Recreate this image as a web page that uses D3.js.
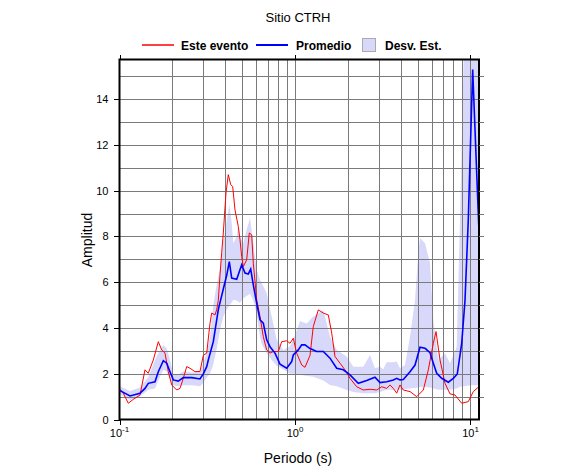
<!DOCTYPE html>
<html>
<head>
<meta charset="utf-8">
<script src="https://cdn.jsdelivr.net/npm/d3@7"></script>
<style>
  body { margin: 0; background: #fff; }
  svg { display: block; font-family: "Liberation Sans", Arial, Helvetica, sans-serif; }
</style>
</head>
<body>
<svg id="chart"></svg>
<script>
'use strict';

// Este evento (red)
const eventT = [0.1007,0.1051,0.1122,0.1198,0.1309,0.1397,0.1459,0.1558,0.1664,0.1740,0.1817,0.1897,0.1984,0.2118,0.2212,0.2310,0.2415,0.2522,0.2693,0.2875,0.3003,0.3140,0.3278,0.3352,0.3501,0.3580,0.3656,0.3738,0.3822,0.3904,0.4044,0.4168,0.4302,0.4416,0.4551,0.4753,0.4860,0.4969,0.5075,0.5306,0.5490,0.5666,0.5786,0.6050,0.6318,0.6598,0.6898,0.7204,0.7522,0.8033,0.8399,0.8968,0.9365,0.9780,1.0225,1.092,1.140,1.218,1.271,1.358,1.450,1.548,1.619,1.690,1.805,1.927,2.058,2.247,2.450,2.675,2.921,3.119,3.330,3.478,3.632,3.797,3.965,4.141,4.523,4.938,5.385,5.750,6.140,6.362,6.704,7.158,7.643,8.161,8.910,9.715,10.37,11.08];
const eventA = [1.32,1.15,0.71,0.88,1.07,2.17,2.02,2.60,3.40,3.04,2.90,2.09,1.51,1.29,1.36,1.80,2.31,2.24,2.09,2.10,2.80,2.90,4.20,4.65,4.57,4.80,5.20,6.30,7.30,8.15,9.90,10.70,10.26,10.18,9.16,8.43,7.85,7.12,6.68,6.98,8.15,8.07,6.83,5.23,4.50,3.62,3.04,2.90,2.97,2.97,3.40,3.44,3.33,3.55,2.90,2.38,2.28,2.80,4.06,4.79,4.65,4.57,3.77,2.75,2.46,2.17,1.80,1.43,1.29,1.32,1.29,1.43,1.36,1.51,1.36,1.15,1.51,1.29,1.22,1.00,1.29,2.17,3.33,3.84,2.60,1.58,1.12,1.07,0.71,0.78,1.22,1.41];

// Promedio (blue)
const meanT = [0.1007,0.1148,0.1309,0.1397,0.1459,0.1593,0.1664,0.1777,0.1858,0.1940,0.2026,0.2163,0.2310,0.2579,0.2875,0.3003,0.3140,0.3206,0.3424,0.3656,0.3904,0.4082,0.4223,0.4358,0.4654,0.4969,0.5190,0.5419,0.5592,0.5786,0.6050,0.6318,0.6598,0.6898,0.7204,0.7692,0.8214,0.8968,0.9576,0.9780,1.044,1.092,1.140,1.218,1.329,1.450,1.583,1.728,1.885,2.058,2.294,2.562,2.856,3.050,3.330,3.632,3.797,3.965,4.141,4.523,4.830,5.157,5.507,5.880,6.140,6.420,6.855,7.475,7.981,8.410,8.910,9.304,9.715,10.29,11.18];
const meanA = [1.26,1.03,1.15,1.36,1.58,1.65,2.09,2.57,2.46,2.09,1.73,1.68,1.83,1.83,1.77,1.99,2.31,2.60,3.40,4.80,5.70,6.30,6.90,6.18,6.13,6.76,6.40,6.36,6.57,5.88,5.08,4.35,4.21,3.48,3.18,2.90,2.42,2.24,2.53,2.82,3.04,3.26,3.26,3.10,2.97,2.97,2.68,2.24,2.17,1.95,1.58,1.70,1.85,1.61,1.65,1.73,1.80,1.73,1.75,2.09,2.38,3.16,3.11,2.92,2.46,2.02,1.80,1.63,1.80,1.99,3.33,5.20,8.73,15.29,8.20];

// Desv. Est. (band)
const bandT = [0.1007,0.1148,0.1309,0.1459,0.1593,0.1664,0.1777,0.1858,0.1940,0.2026,0.2163,0.2310,0.2579,0.2875,0.3003,0.3140,0.3278,0.3424,0.3580,0.3738,0.3904,0.4082,0.4223,0.4358,0.4451,0.4654,0.4753,0.4860,0.5075,0.5306,0.5541,0.5786,0.6050,0.6318,0.6460,0.6898,0.7366,0.7866,0.8577,0.9365,0.9780,1.068,1.166,1.271,1.450,1.583,1.728,1.970,2.149,2.450,2.675,2.856,3.050,3.185,3.330,3.632,3.797,3.965,4.234,4.523,4.830,5.043,5.157,5.507,5.880,6.140,6.556,7.158,7.643,8.345,8.714,9.182,9.935,11.18];
const bandLo = [1.10,0.85,1.00,1.30,1.35,1.70,2.17,2.10,1.75,1.50,1.45,1.50,1.50,1.45,1.60,1.85,2.00,2.40,3.10,3.90,4.50,4.80,5.00,5.10,5.23,5.20,5.15,5.10,5.30,5.40,5.50,5.20,4.60,3.62,3.30,2.90,2.60,2.35,2.20,2.00,2.00,1.95,1.90,1.87,1.70,1.51,1.45,1.29,1.20,1.15,1.15,1.15,1.20,1.25,1.30,1.30,1.30,1.30,1.33,1.35,1.38,1.40,1.42,1.43,1.40,1.35,1.30,1.30,1.30,1.35,1.43,1.45,1.50,1.50];
const bandHi = [1.45,1.25,1.40,1.85,2.60,2.90,3.26,3.10,2.60,2.00,1.95,2.10,2.05,2.10,2.50,2.90,3.60,5.00,5.90,6.60,7.80,8.70,9.40,8.60,7.70,8.00,8.45,8.00,7.70,8.30,8.80,7.70,6.54,6.10,5.96,5.52,4.50,3.48,3.04,3.20,3.48,4.30,4.20,4.50,4.79,3.62,3.04,2.75,2.31,2.31,2.82,2.24,2.31,2.20,2.50,2.50,2.53,2.24,2.38,3.62,5.23,7.27,7.93,7.70,6.83,4.35,2.60,2.90,2.46,3.18,8.73,16.5,17.0,17.0];

const xGrid = [0.2,0.3,0.4,0.5,0.6,0.7,0.8,0.9,1,2,3,4,5,6,7,8,9,10];
const xMajor = [{v: 0.1, e: '-1'}, {v: 1, e: '0'}, {v: 10, e: '1'}];
const yGrid = d3.range(1, 16);
const yMajor = [0, 2, 4, 6, 8, 10, 12, 14];

const W = 586, H = 475;
const box = {left: 119.5, right: 479, top: 59.5, bottom: 419.5};

const svg = d3.select('#chart').attr('width', W).attr('height', H);

const x = d3.scaleLog().domain([0.1, 11.18]).range([box.left, box.right]);
const y = d3.scaleLinear().domain([0, 15.73]).range([box.bottom, box.top]);
const px = v => Math.round(x(v)) + 0.5;
const py = v => Math.round(y(v)) + 0.5;

svg.append('clipPath').attr('id', 'clip')
  .append('rect')
  .attr('x', box.left).attr('y', box.top)
  .attr('width', box.right - box.left).attr('height', box.bottom - box.top);

// band
const band = bandT.map((t, i) => ({t: t, lo: bandLo[i], hi: bandHi[i]}));
svg.append('path')
  .datum(band)
  .attr('clip-path', 'url(#clip)')
  .attr('fill', '#d8d8fa')
  .attr('d', d3.area().x(d => x(d.t)).y0(d => y(d.lo)).y1(d => y(d.hi)));

// grid
const grid = svg.append('g').attr('stroke', '#7a7a7a').attr('stroke-width', 1).attr('shape-rendering', 'crispEdges');
grid.selectAll('line.v').data(xGrid).join('line')
  .attr('x1', d => px(d)).attr('x2', d => px(d))
  .attr('y1', box.top).attr('y2', box.bottom);
grid.selectAll('line.h').data(yGrid).join('line')
  .attr('x1', box.left).attr('x2', box.right)
  .attr('y1', d => py(d)).attr('y2', d => py(d));

// curves
const line = d3.line().x(d => x(d[0])).y(d => y(d[1]));
svg.append('path')
  .datum(eventT.map((t, i) => [t, eventA[i]]))
  .attr('clip-path', 'url(#clip)')
  .attr('fill', 'none').attr('stroke', '#ff0000').attr('stroke-width', 1)
  .attr('d', line);
svg.append('path')
  .datum(meanT.map((t, i) => [t, meanA[i]]))
  .attr('clip-path', 'url(#clip)')
  .attr('fill', 'none').attr('stroke', '#0000ff').attr('stroke-width', 1.6)
  .attr('d', line);

// frame
svg.append('rect')
  .attr('x', box.left).attr('y', box.top)
  .attr('width', box.right - box.left).attr('height', box.bottom - box.top)
  .attr('fill', 'none').attr('stroke', '#000').attr('stroke-width', 2);

// ticks
const ticks = svg.append('g').attr('stroke', '#000').attr('stroke-width', 1).attr('shape-rendering', 'crispEdges');
ticks.selectAll('line.lt').data(yMajor).join('line')
  .attr('x1', box.left - 6).attr('x2', box.left)
  .attr('y1', d => py(d)).attr('y2', d => py(d));
ticks.selectAll('line.rt').data(yGrid).join('line')
  .attr('stroke', '#777')
  .attr('x1', box.right).attr('x2', box.right + 5)
  .attr('y1', d => py(d)).attr('y2', d => py(d));
ticks.selectAll('line.bt').data(xMajor).join('line')
  .attr('x1', d => px(d.v)).attr('x2', d => px(d.v))
  .attr('y1', box.bottom).attr('y2', box.bottom + 5);
ticks.selectAll('line.tt').data(xMajor).join('line')
  .attr('x1', d => px(d.v)).attr('x2', d => px(d.v))
  .attr('y1', box.top - 5).attr('y2', box.top);

// tick labels
svg.selectAll('text.yl').data(yMajor).join('text')
  .attr('x', box.left - 11).attr('y', d => y(d) + 4)
  .attr('text-anchor', 'end').attr('font-size', 11)
  .text(d => d);

const xl = svg.selectAll('text.xl').data(xMajor).join('text')
  .attr('x', d => x(d.v)).attr('y', 437)
  .attr('text-anchor', 'middle').attr('font-size', 11);
xl.append('tspan').text('10');
xl.append('tspan').attr('dy', -5).attr('font-size', 8).text(d => d.e);

// axis titles
svg.append('text')
  .attr('x', 298).attr('y', 463)
  .attr('text-anchor', 'middle').attr('font-size', 14)
  .text('Periodo (s)');
svg.append('text')
  .attr('transform', 'translate(92,240) rotate(-90)')
  .attr('text-anchor', 'middle').attr('font-size', 14)
  .text('Amplitud');

// title
svg.append('text')
  .attr('x', 298).attr('y', 22)
  .attr('text-anchor', 'middle').attr('font-size', 13)
  .text('Sitio CTRH');

// legend
const leg = svg.append('g').attr('font-size', 12).attr('font-weight', 'bold');
leg.append('line').attr('x1', 142).attr('x2', 174).attr('y1', 45).attr('y2', 45)
  .attr('stroke', '#ff0000').attr('stroke-width', 1.5);
leg.append('text').attr('x', 181).attr('y', 49.5).text('Este evento');
leg.append('line').attr('x1', 256).attr('x2', 288).attr('y1', 45).attr('y2', 45)
  .attr('stroke', '#0000ff').attr('stroke-width', 2);
leg.append('text').attr('x', 296).attr('y', 49.5).text('Promedio');
leg.append('rect').attr('x', 362.5).attr('y', 38.5).attr('width', 13).attr('height', 13)
  .attr('fill', '#d8d8fa').attr('stroke', '#aaa').attr('stroke-width', 1);
leg.append('text').attr('x', 385).attr('y', 49.5).text('Desv. Est.');
</script>
</body>
</html>
